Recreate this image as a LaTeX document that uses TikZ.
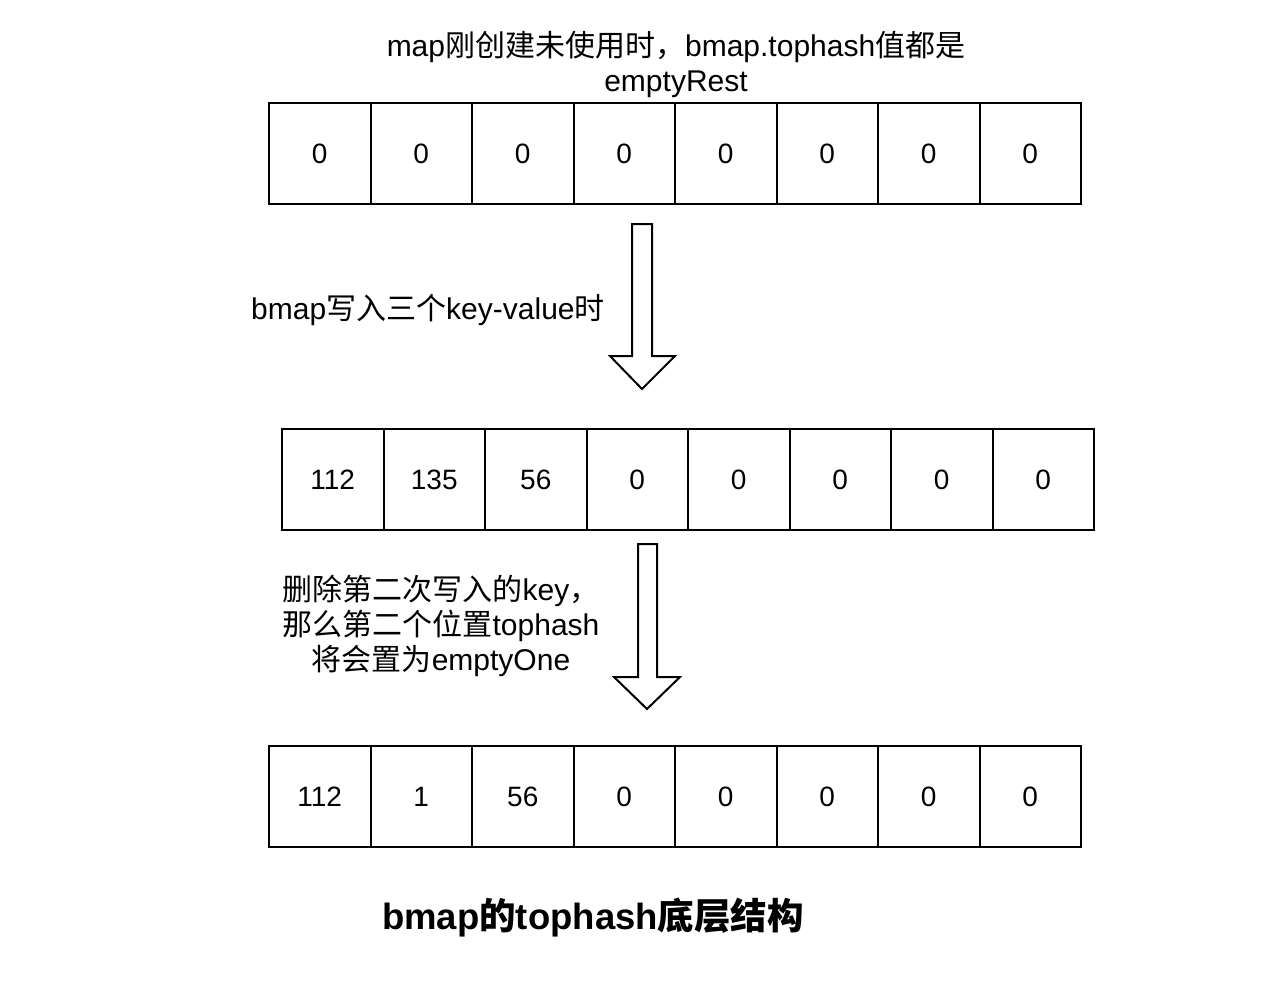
\documentclass[tikz,border=0pt]{standalone}
\usepackage{fontspec}
\setmainfont{Liberation Sans}
\newfontfamily\cjk{Noto Sans CJK SC}
\newfontfamily\cjkb{Noto Sans CJK SC Bold}
\begin{document}
\begin{tikzpicture}[x=1pt,y=-1pt,
  cell/.style={draw=black,line width=2pt,minimum width=101.5pt,minimum height=101pt,inner sep=0pt,anchor=north west,font=\fontsize{28}{30}\selectfont},
  lbl/.style={font=\fontsize{30}{35}\selectfont,align=center,inner sep=0pt},
  blockarrow/.style={draw=black,line width=2pt,fill=white,line join=miter}]
\useasboundingbox (0,0) rectangle (1282,980);
% row 1
\foreach \v [count=\i from 0] in {0,0,0,0,0,0,0,0}
  \node[cell] (a\i) at ({268+101.5*\i},102) {\v};
% row 2
\foreach \v [count=\i from 0] in {112,135,56,0,0,0,0,0}
  \node[cell] (b\i) at ({281+101.5*\i},428) {\v};
% row 3
\foreach \v [count=\i from 0] in {112,1,56,0,0,0,0,0}
  \node[cell] (c\i) at ({268+101.5*\i},745) {\v};
% arrows
\draw[blockarrow] (632,224) -- (652,224) -- (652,356) -- (675,356) -- (642,389) -- (610,356) -- (632,356) -- cycle;
\draw[blockarrow] (638,544) -- (657,544) -- (657,677) -- (680,677) -- (647,709) -- (614,677) -- (638,677) -- cycle;
% labels
\node[lbl] (t1) at (676,64) {map{\cjk 刚创建未使用时，}bmap.tophash{\cjk 值都是}\\emptyRest};
\node[lbl,anchor=west] (t2) at (251,310) {bmap{\cjk 写入三个}key-value{\cjk 时}};
\node[lbl] (t3) at (441,626) {{\cjk 删除第二次写入的}key{\cjk ，}\\{\cjk 那么第二个位置}tophash\\{\cjk 将会置为}emptyOne};
\node[font=\bfseries\fontsize{36.5}{38}\selectfont,inner sep=0pt] (t4) at (593,918) {bmap{\cjkb 的}tophash{\cjkb 底层结构}};
\end{tikzpicture}
\end{document}
